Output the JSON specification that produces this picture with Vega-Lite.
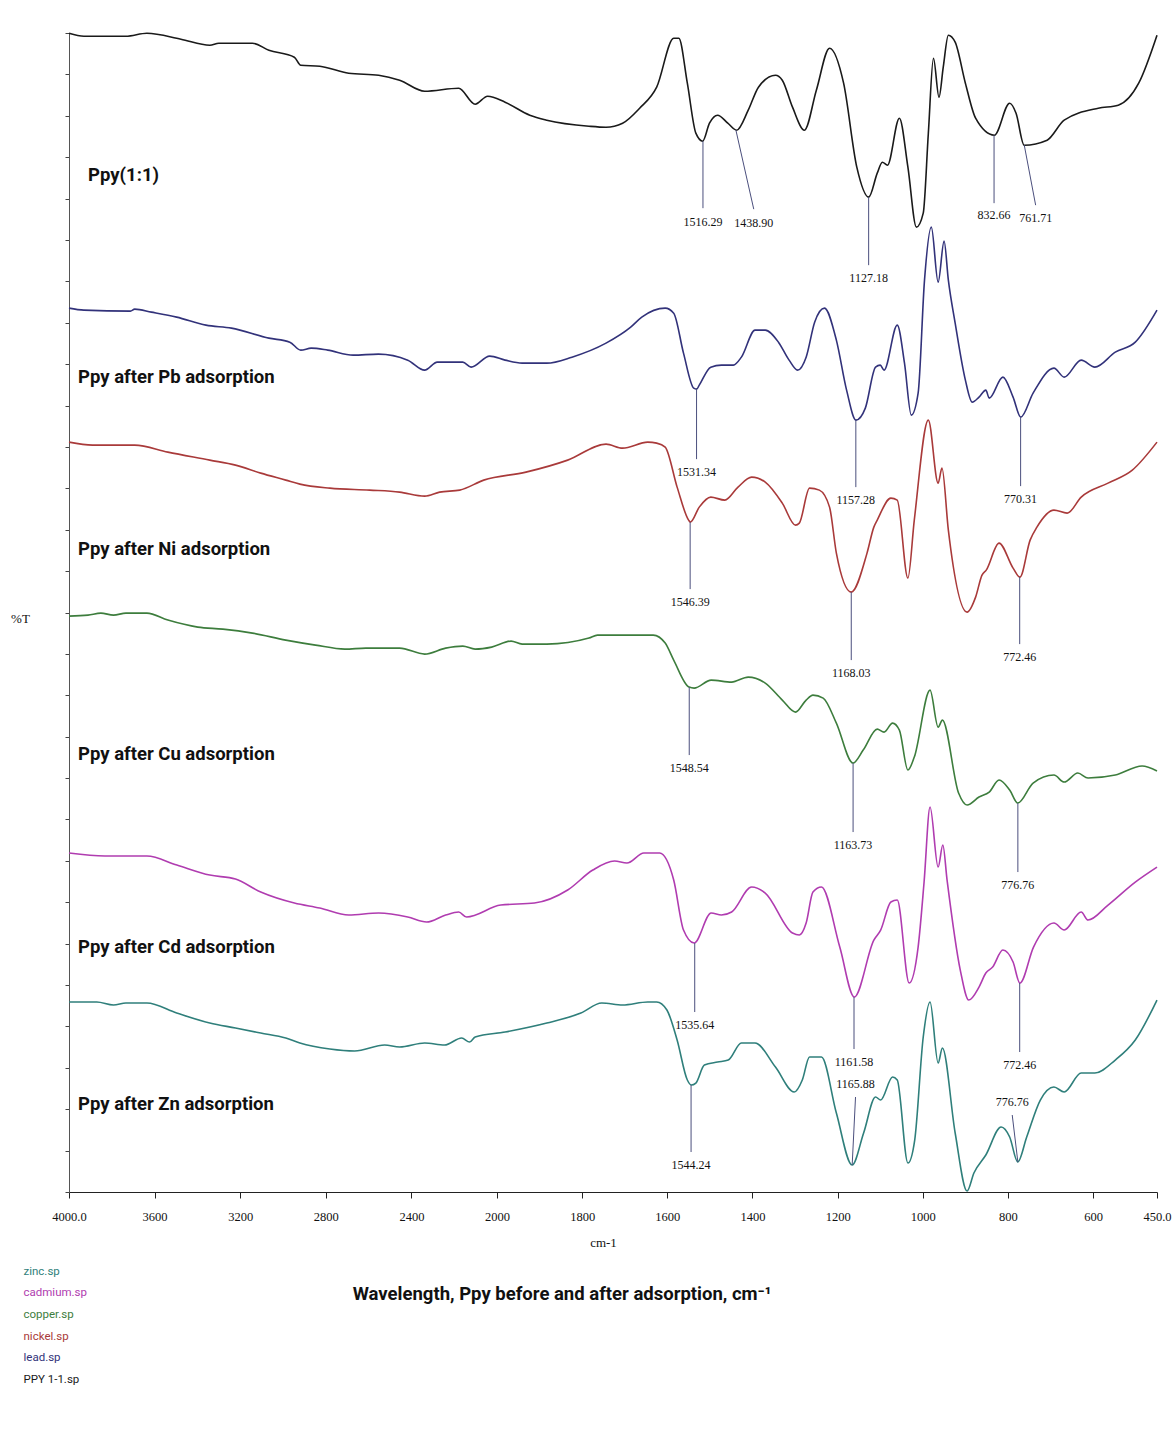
{
"$schema": "https://vega.github.io/schema/vega-lite/v6.json",
"autosize": "none",
"width": 1088,
"height": 1159,
"padding": {"left": 69, "top": 33, "right": 16, "bottom": 239},
"background": "white",
"config": {"view": {"stroke": null}},
"title": {"text": "Wavelength, Ppy before and after adsorption, cm⁻¹", "orient": "bottom", "offset": -101, "dx": -51, "font": "Roboto", "fontSize": 18.5, "fontWeight": "bold", "color": "#111"},
"datasets": {
"spectra": [
{"s":"PPY 1-1.sp","w":4000,"t":115.9},{"s":"PPY 1-1.sp","w":3930,"t":115.6},{"s":"PPY 1-1.sp","w":3734,"t":115.6},{"s":"PPY 1-1.sp","w":3636,"t":115.9},{"s":"PPY 1-1.sp","w":3477,"t":115.3},{"s":"PPY 1-1.sp","w":3342,"t":114.7},{"s":"PPY 1-1.sp","w":3300,"t":114.9},{"s":"PPY 1-1.sp","w":3143,"t":114.9},{"s":"PPY 1-1.sp","w":3066,"t":114.2},{"s":"PPY 1-1.sp","w":2947,"t":113.5},{"s":"PPY 1-1.sp","w":2917,"t":112.7},{"s":"PPY 1-1.sp","w":2828,"t":112.6},{"s":"PPY 1-1.sp","w":2693,"t":111.9},{"s":"PPY 1-1.sp","w":2553,"t":111.7},{"s":"PPY 1-1.sp","w":2455,"t":111.2},{"s":"PPY 1-1.sp","w":2338,"t":110.1},{"s":"PPY 1-1.sp","w":2179,"t":110.4},{"s":"PPY 1-1.sp","w":2102,"t":108.8},{"s":"PPY 1-1.sp","w":2044,"t":109.6},{"s":"PPY 1-1.sp","w":1981,"t":109.0},{"s":"PPY 1-1.sp","w":1923,"t":107.7},{"s":"PPY 1-1.sp","w":1883,"t":107.2},{"s":"PPY 1-1.sp","w":1784,"t":106.6},{"s":"PPY 1-1.sp","w":1744,"t":106.5},{"s":"PPY 1-1.sp","w":1705,"t":106.9},{"s":"PPY 1-1.sp","w":1665,"t":108.4},{"s":"PPY 1-1.sp","w":1625,"t":110.5},{"s":"PPY 1-1.sp","w":1585,"t":115.4},{"s":"PPY 1-1.sp","w":1573,"t":115.4},{"s":"PPY 1-1.sp","w":1553,"t":110.9},{"s":"PPY 1-1.sp","w":1533,"t":105.9},{"s":"PPY 1-1.sp","w":1517,"t":105.1},{"s":"PPY 1-1.sp","w":1501,"t":106.9},{"s":"PPY 1-1.sp","w":1482,"t":107.7},{"s":"PPY 1-1.sp","w":1458,"t":106.9},{"s":"PPY 1-1.sp","w":1437,"t":106.2},{"s":"PPY 1-1.sp","w":1410,"t":108.2},{"s":"PPY 1-1.sp","w":1386,"t":110.5},{"s":"PPY 1-1.sp","w":1346,"t":111.7},{"s":"PPY 1-1.sp","w":1330,"t":111.2},{"s":"PPY 1-1.sp","w":1306,"t":108.5},{"s":"PPY 1-1.sp","w":1278,"t":106.2},{"s":"PPY 1-1.sp","w":1250,"t":110.2},{"s":"PPY 1-1.sp","w":1219,"t":114.4},{"s":"PPY 1-1.sp","w":1186,"t":110.9},{"s":"PPY 1-1.sp","w":1155,"t":102.5},{"s":"PPY 1-1.sp","w":1127,"t":99.5},{"s":"PPY 1-1.sp","w":1107,"t":101.9},{"s":"PPY 1-1.sp","w":1095,"t":103.0},{"s":"PPY 1-1.sp","w":1083,"t":102.7},{"s":"PPY 1-1.sp","w":1055,"t":107.4},{"s":"PPY 1-1.sp","w":1035,"t":102.5},{"s":"PPY 1-1.sp","w":1015,"t":96.5},{"s":"PPY 1-1.sp","w":999,"t":97.9},{"s":"PPY 1-1.sp","w":987,"t":105.9},{"s":"PPY 1-1.sp","w":975,"t":113.4},{"s":"PPY 1-1.sp","w":962,"t":109.5},{"s":"PPY 1-1.sp","w":952,"t":112.5},{"s":"PPY 1-1.sp","w":940,"t":115.7},{"s":"PPY 1-1.sp","w":924,"t":115.0},{"s":"PPY 1-1.sp","w":900,"t":110.9},{"s":"PPY 1-1.sp","w":876,"t":107.4},{"s":"PPY 1-1.sp","w":832,"t":105.7},{"s":"PPY 1-1.sp","w":796,"t":108.9},{"s":"PPY 1-1.sp","w":781,"t":107.9},{"s":"PPY 1-1.sp","w":762,"t":104.7},{"s":"PPY 1-1.sp","w":708,"t":105.2},{"s":"PPY 1-1.sp","w":668,"t":107.2},{"s":"PPY 1-1.sp","w":588,"t":108.4},{"s":"PPY 1-1.sp","w":541,"t":108.7},{"s":"PPY 1-1.sp","w":493,"t":110.9},{"s":"PPY 1-1.sp","w":450,"t":115.7},
{"s":"lead.sp","w":4000,"t":88.4},{"s":"lead.sp","w":3930,"t":88.2},{"s":"lead.sp","w":3713,"t":88.1},{"s":"lead.sp","w":3693,"t":88.3},{"s":"lead.sp","w":3615,"t":88.0},{"s":"lead.sp","w":3497,"t":87.5},{"s":"lead.sp","w":3360,"t":86.7},{"s":"lead.sp","w":3241,"t":86.4},{"s":"lead.sp","w":3066,"t":85.4},{"s":"lead.sp","w":2968,"t":85.0},{"s":"lead.sp","w":2917,"t":84.2},{"s":"lead.sp","w":2868,"t":84.4},{"s":"lead.sp","w":2791,"t":84.2},{"s":"lead.sp","w":2672,"t":83.7},{"s":"lead.sp","w":2554,"t":83.8},{"s":"lead.sp","w":2417,"t":83.2},{"s":"lead.sp","w":2338,"t":82.2},{"s":"lead.sp","w":2279,"t":83.0},{"s":"lead.sp","w":2160,"t":83.0},{"s":"lead.sp","w":2121,"t":82.5},{"s":"lead.sp","w":2034,"t":83.6},{"s":"lead.sp","w":1981,"t":83.2},{"s":"lead.sp","w":1941,"t":82.9},{"s":"lead.sp","w":1883,"t":82.9},{"s":"lead.sp","w":1824,"t":83.5},{"s":"lead.sp","w":1744,"t":84.9},{"s":"lead.sp","w":1686,"t":86.5},{"s":"lead.sp","w":1660,"t":87.5},{"s":"lead.sp","w":1605,"t":88.4},{"s":"lead.sp","w":1585,"t":87.9},{"s":"lead.sp","w":1562,"t":83.9},{"s":"lead.sp","w":1538,"t":80.4},{"s":"lead.sp","w":1531,"t":80.3},{"s":"lead.sp","w":1525,"t":80.7},{"s":"lead.sp","w":1498,"t":82.5},{"s":"lead.sp","w":1473,"t":82.7},{"s":"lead.sp","w":1445,"t":82.7},{"s":"lead.sp","w":1426,"t":83.5},{"s":"lead.sp","w":1394,"t":86.2},{"s":"lead.sp","w":1370,"t":86.2},{"s":"lead.sp","w":1339,"t":85.0},{"s":"lead.sp","w":1314,"t":83.2},{"s":"lead.sp","w":1294,"t":82.2},{"s":"lead.sp","w":1274,"t":83.5},{"s":"lead.sp","w":1254,"t":87.0},{"s":"lead.sp","w":1231,"t":88.4},{"s":"lead.sp","w":1203,"t":85.2},{"s":"lead.sp","w":1179,"t":80.2},{"s":"lead.sp","w":1157,"t":77.2},{"s":"lead.sp","w":1135,"t":78.4},{"s":"lead.sp","w":1111,"t":82.5},{"s":"lead.sp","w":1100,"t":82.7},{"s":"lead.sp","w":1091,"t":82.2},{"s":"lead.sp","w":1060,"t":86.7},{"s":"lead.sp","w":1043,"t":82.9},{"s":"lead.sp","w":1027,"t":77.7},{"s":"lead.sp","w":1011,"t":79.9},{"s":"lead.sp","w":996,"t":91.2},{"s":"lead.sp","w":980,"t":96.5},{"s":"lead.sp","w":964,"t":91.0},{"s":"lead.sp","w":950,"t":95.1},{"s":"lead.sp","w":940,"t":91.2},{"s":"lead.sp","w":924,"t":86.9},{"s":"lead.sp","w":900,"t":81.2},{"s":"lead.sp","w":884,"t":79.0},{"s":"lead.sp","w":868,"t":79.5},{"s":"lead.sp","w":852,"t":80.2},{"s":"lead.sp","w":844,"t":79.4},{"s":"lead.sp","w":812,"t":81.5},{"s":"lead.sp","w":788,"t":79.5},{"s":"lead.sp","w":770,"t":77.5},{"s":"lead.sp","w":741,"t":79.9},{"s":"lead.sp","w":692,"t":82.4},{"s":"lead.sp","w":668,"t":81.5},{"s":"lead.sp","w":628,"t":83.2},{"s":"lead.sp","w":596,"t":82.5},{"s":"lead.sp","w":548,"t":84.0},{"s":"lead.sp","w":501,"t":85.0},{"s":"lead.sp","w":450,"t":88.2},
{"s":"nickel.sp","w":4000,"t":75.0},{"s":"nickel.sp","w":3890,"t":74.7},{"s":"nickel.sp","w":3693,"t":74.7},{"s":"nickel.sp","w":3538,"t":74.0},{"s":"nickel.sp","w":3342,"t":73.2},{"s":"nickel.sp","w":3222,"t":72.7},{"s":"nickel.sp","w":3104,"t":71.9},{"s":"nickel.sp","w":2987,"t":71.2},{"s":"nickel.sp","w":2921,"t":70.8},{"s":"nickel.sp","w":2781,"t":70.4},{"s":"nickel.sp","w":2595,"t":70.2},{"s":"nickel.sp","w":2455,"t":70.0},{"s":"nickel.sp","w":2338,"t":69.6},{"s":"nickel.sp","w":2268,"t":70.0},{"s":"nickel.sp","w":2174,"t":70.2},{"s":"nickel.sp","w":2062,"t":71.2},{"s":"nickel.sp","w":1932,"t":72.0},{"s":"nickel.sp","w":1834,"t":73.2},{"s":"nickel.sp","w":1744,"t":74.8},{"s":"nickel.sp","w":1705,"t":74.4},{"s":"nickel.sp","w":1646,"t":75.0},{"s":"nickel.sp","w":1625,"t":74.9},{"s":"nickel.sp","w":1605,"t":74.5},{"s":"nickel.sp","w":1577,"t":70.5},{"s":"nickel.sp","w":1550,"t":67.2},{"s":"nickel.sp","w":1546,"t":67.0},{"s":"nickel.sp","w":1525,"t":68.5},{"s":"nickel.sp","w":1498,"t":69.5},{"s":"nickel.sp","w":1465,"t":69.2},{"s":"nickel.sp","w":1434,"t":70.5},{"s":"nickel.sp","w":1402,"t":71.5},{"s":"nickel.sp","w":1370,"t":71.0},{"s":"nickel.sp","w":1330,"t":68.9},{"s":"nickel.sp","w":1299,"t":66.7},{"s":"nickel.sp","w":1290,"t":66.9},{"s":"nickel.sp","w":1266,"t":70.4},{"s":"nickel.sp","w":1243,"t":70.2},{"s":"nickel.sp","w":1219,"t":68.5},{"s":"nickel.sp","w":1203,"t":63.9},{"s":"nickel.sp","w":1168,"t":60.0},{"s":"nickel.sp","w":1131,"t":63.9},{"s":"nickel.sp","w":1115,"t":66.5},{"s":"nickel.sp","w":1107,"t":67.2},{"s":"nickel.sp","w":1075,"t":69.4},{"s":"nickel.sp","w":1060,"t":69.2},{"s":"nickel.sp","w":1035,"t":61.4},{"s":"nickel.sp","w":1020,"t":67.2},{"s":"nickel.sp","w":987,"t":77.2},{"s":"nickel.sp","w":964,"t":70.9},{"s":"nickel.sp","w":955,"t":72.4},{"s":"nickel.sp","w":940,"t":66.2},{"s":"nickel.sp","w":896,"t":58.0},{"s":"nickel.sp","w":876,"t":59.5},{"s":"nickel.sp","w":861,"t":61.7},{"s":"nickel.sp","w":851,"t":62.2},{"s":"nickel.sp","w":821,"t":64.9},{"s":"nickel.sp","w":788,"t":62.4},{"s":"nickel.sp","w":772,"t":61.5},{"s":"nickel.sp","w":748,"t":65.2},{"s":"nickel.sp","w":732,"t":66.5},{"s":"nickel.sp","w":692,"t":68.2},{"s":"nickel.sp","w":661,"t":67.9},{"s":"nickel.sp","w":628,"t":69.5},{"s":"nickel.sp","w":565,"t":70.9},{"s":"nickel.sp","w":508,"t":72.2},{"s":"nickel.sp","w":450,"t":75.0},
{"s":"copper.sp","w":4000,"t":57.6},{"s":"copper.sp","w":3911,"t":57.7},{"s":"copper.sp","w":3851,"t":57.9},{"s":"copper.sp","w":3792,"t":57.7},{"s":"copper.sp","w":3734,"t":57.9},{"s":"copper.sp","w":3636,"t":57.9},{"s":"copper.sp","w":3538,"t":57.2},{"s":"copper.sp","w":3398,"t":56.5},{"s":"copper.sp","w":3281,"t":56.3},{"s":"copper.sp","w":3143,"t":55.9},{"s":"copper.sp","w":2987,"t":55.2},{"s":"copper.sp","w":2848,"t":54.7},{"s":"copper.sp","w":2711,"t":54.3},{"s":"copper.sp","w":2613,"t":54.4},{"s":"copper.sp","w":2455,"t":54.4},{"s":"copper.sp","w":2338,"t":53.8},{"s":"copper.sp","w":2240,"t":54.4},{"s":"copper.sp","w":2160,"t":54.6},{"s":"copper.sp","w":2102,"t":54.3},{"s":"copper.sp","w":2025,"t":54.5},{"s":"copper.sp","w":1967,"t":55.1},{"s":"copper.sp","w":1941,"t":54.8},{"s":"copper.sp","w":1883,"t":54.8},{"s":"copper.sp","w":1784,"t":55.4},{"s":"copper.sp","w":1764,"t":55.7},{"s":"copper.sp","w":1665,"t":55.7},{"s":"copper.sp","w":1633,"t":55.7},{"s":"copper.sp","w":1605,"t":54.9},{"s":"copper.sp","w":1585,"t":53.2},{"s":"copper.sp","w":1549,"t":50.5},{"s":"copper.sp","w":1537,"t":50.4},{"s":"copper.sp","w":1497,"t":51.2},{"s":"copper.sp","w":1449,"t":51.0},{"s":"copper.sp","w":1410,"t":51.5},{"s":"copper.sp","w":1370,"t":50.9},{"s":"copper.sp","w":1330,"t":49.2},{"s":"copper.sp","w":1299,"t":48.0},{"s":"copper.sp","w":1274,"t":49.2},{"s":"copper.sp","w":1258,"t":49.7},{"s":"copper.sp","w":1234,"t":49.4},{"s":"copper.sp","w":1203,"t":46.9},{"s":"copper.sp","w":1164,"t":42.9},{"s":"copper.sp","w":1140,"t":44.2},{"s":"copper.sp","w":1107,"t":46.3},{"s":"copper.sp","w":1091,"t":46.0},{"s":"copper.sp","w":1071,"t":46.9},{"s":"copper.sp","w":1055,"t":46.2},{"s":"copper.sp","w":1035,"t":42.2},{"s":"copper.sp","w":1020,"t":43.5},{"s":"copper.sp","w":983,"t":50.2},{"s":"copper.sp","w":964,"t":46.5},{"s":"copper.sp","w":954,"t":47.2},{"s":"copper.sp","w":916,"t":39.9},{"s":"copper.sp","w":896,"t":38.7},{"s":"copper.sp","w":868,"t":39.5},{"s":"copper.sp","w":844,"t":40.0},{"s":"copper.sp","w":821,"t":41.2},{"s":"copper.sp","w":796,"t":40.2},{"s":"copper.sp","w":777,"t":38.9},{"s":"copper.sp","w":741,"t":40.9},{"s":"copper.sp","w":692,"t":41.7},{"s":"copper.sp","w":668,"t":41.0},{"s":"copper.sp","w":636,"t":41.9},{"s":"copper.sp","w":612,"t":41.4},{"s":"copper.sp","w":548,"t":41.7},{"s":"copper.sp","w":485,"t":42.6},{"s":"copper.sp","w":450,"t":42.1},
{"s":"cadmium.sp","w":4000,"t":33.9},{"s":"cadmium.sp","w":3832,"t":33.6},{"s":"cadmium.sp","w":3636,"t":33.6},{"s":"cadmium.sp","w":3496,"t":32.7},{"s":"cadmium.sp","w":3342,"t":31.7},{"s":"cadmium.sp","w":3222,"t":31.3},{"s":"cadmium.sp","w":3104,"t":30.0},{"s":"cadmium.sp","w":2947,"t":28.9},{"s":"cadmium.sp","w":2828,"t":28.4},{"s":"cadmium.sp","w":2693,"t":27.7},{"s":"cadmium.sp","w":2553,"t":27.9},{"s":"cadmium.sp","w":2417,"t":27.5},{"s":"cadmium.sp","w":2329,"t":27.0},{"s":"cadmium.sp","w":2240,"t":27.7},{"s":"cadmium.sp","w":2179,"t":28.0},{"s":"cadmium.sp","w":2142,"t":27.5},{"s":"cadmium.sp","w":1991,"t":28.7},{"s":"cadmium.sp","w":1912,"t":28.9},{"s":"cadmium.sp","w":1834,"t":30.2},{"s":"cadmium.sp","w":1775,"t":32.2},{"s":"cadmium.sp","w":1724,"t":33.1},{"s":"cadmium.sp","w":1695,"t":32.9},{"s":"cadmium.sp","w":1655,"t":33.9},{"s":"cadmium.sp","w":1618,"t":33.9},{"s":"cadmium.sp","w":1585,"t":31.2},{"s":"cadmium.sp","w":1562,"t":26.2},{"s":"cadmium.sp","w":1537,"t":24.9},{"s":"cadmium.sp","w":1497,"t":27.9},{"s":"cadmium.sp","w":1473,"t":27.7},{"s":"cadmium.sp","w":1449,"t":28.0},{"s":"cadmium.sp","w":1402,"t":30.5},{"s":"cadmium.sp","w":1370,"t":29.9},{"s":"cadmium.sp","w":1306,"t":25.9},{"s":"cadmium.sp","w":1290,"t":25.7},{"s":"cadmium.sp","w":1274,"t":26.9},{"s":"cadmium.sp","w":1258,"t":30.0},{"s":"cadmium.sp","w":1238,"t":30.5},{"s":"cadmium.sp","w":1195,"t":24.5},{"s":"cadmium.sp","w":1161,"t":19.5},{"s":"cadmium.sp","w":1115,"t":25.2},{"s":"cadmium.sp","w":1099,"t":26.2},{"s":"cadmium.sp","w":1075,"t":29.0},{"s":"cadmium.sp","w":1060,"t":29.2},{"s":"cadmium.sp","w":1032,"t":20.9},{"s":"cadmium.sp","w":1011,"t":24.5},{"s":"cadmium.sp","w":997,"t":31.0},{"s":"cadmium.sp","w":983,"t":38.5},{"s":"cadmium.sp","w":964,"t":32.5},{"s":"cadmium.sp","w":953,"t":34.7},{"s":"cadmium.sp","w":943,"t":31.2},{"s":"cadmium.sp","w":912,"t":22.2},{"s":"cadmium.sp","w":892,"t":19.2},{"s":"cadmium.sp","w":868,"t":20.5},{"s":"cadmium.sp","w":852,"t":21.9},{"s":"cadmium.sp","w":836,"t":22.5},{"s":"cadmium.sp","w":812,"t":24.2},{"s":"cadmium.sp","w":788,"t":23.0},{"s":"cadmium.sp","w":772,"t":20.9},{"s":"cadmium.sp","w":740,"t":24.5},{"s":"cadmium.sp","w":692,"t":26.9},{"s":"cadmium.sp","w":668,"t":26.2},{"s":"cadmium.sp","w":628,"t":28.0},{"s":"cadmium.sp","w":612,"t":27.2},{"s":"cadmium.sp","w":565,"t":28.7},{"s":"cadmium.sp","w":501,"t":31.0},{"s":"cadmium.sp","w":450,"t":32.5},
{"s":"zinc.sp","w":4000,"t":19.0},{"s":"zinc.sp","w":3870,"t":19.0},{"s":"zinc.sp","w":3792,"t":18.7},{"s":"zinc.sp","w":3734,"t":18.9},{"s":"zinc.sp","w":3636,"t":18.9},{"s":"zinc.sp","w":3497,"t":17.9},{"s":"zinc.sp","w":3342,"t":16.9},{"s":"zinc.sp","w":3222,"t":16.4},{"s":"zinc.sp","w":3104,"t":15.9},{"s":"zinc.sp","w":2987,"t":15.4},{"s":"zinc.sp","w":2921,"t":14.9},{"s":"zinc.sp","w":2781,"t":14.3},{"s":"zinc.sp","w":2665,"t":14.1},{"s":"zinc.sp","w":2525,"t":14.7},{"s":"zinc.sp","w":2455,"t":14.5},{"s":"zinc.sp","w":2338,"t":14.9},{"s":"zinc.sp","w":2245,"t":14.7},{"s":"zinc.sp","w":2165,"t":15.4},{"s":"zinc.sp","w":2128,"t":15.0},{"s":"zinc.sp","w":2102,"t":15.5},{"s":"zinc.sp","w":1981,"t":16.0},{"s":"zinc.sp","w":1883,"t":16.9},{"s":"zinc.sp","w":1803,"t":17.9},{"s":"zinc.sp","w":1754,"t":18.9},{"s":"zinc.sp","w":1705,"t":18.7},{"s":"zinc.sp","w":1646,"t":19.0},{"s":"zinc.sp","w":1625,"t":19.0},{"s":"zinc.sp","w":1601,"t":18.2},{"s":"zinc.sp","w":1577,"t":15.2},{"s":"zinc.sp","w":1553,"t":11.2},{"s":"zinc.sp","w":1544,"t":10.7},{"s":"zinc.sp","w":1533,"t":10.9},{"s":"zinc.sp","w":1513,"t":12.7},{"s":"zinc.sp","w":1482,"t":13.0},{"s":"zinc.sp","w":1457,"t":13.2},{"s":"zinc.sp","w":1426,"t":14.9},{"s":"zinc.sp","w":1394,"t":14.9},{"s":"zinc.sp","w":1346,"t":12.5},{"s":"zinc.sp","w":1302,"t":10.0},{"s":"zinc.sp","w":1283,"t":11.2},{"s":"zinc.sp","w":1266,"t":13.5},{"s":"zinc.sp","w":1238,"t":13.5},{"s":"zinc.sp","w":1203,"t":7.9},{"s":"zinc.sp","w":1166,"t":2.7},{"s":"zinc.sp","w":1139,"t":5.9},{"s":"zinc.sp","w":1111,"t":9.5},{"s":"zinc.sp","w":1099,"t":9.2},{"s":"zinc.sp","w":1071,"t":11.5},{"s":"zinc.sp","w":1060,"t":11.2},{"s":"zinc.sp","w":1035,"t":2.9},{"s":"zinc.sp","w":1019,"t":5.2},{"s":"zinc.sp","w":999,"t":15.5},{"s":"zinc.sp","w":983,"t":19.0},{"s":"zinc.sp","w":964,"t":12.9},{"s":"zinc.sp","w":954,"t":14.4},{"s":"zinc.sp","w":924,"t":5.9},{"s":"zinc.sp","w":896,"t":0.1},{"s":"zinc.sp","w":880,"t":1.9},{"s":"zinc.sp","w":852,"t":3.7},{"s":"zinc.sp","w":816,"t":6.5},{"s":"zinc.sp","w":796,"t":5.5},{"s":"zinc.sp","w":777,"t":3.0},{"s":"zinc.sp","w":756,"t":5.5},{"s":"zinc.sp","w":724,"t":9.2},{"s":"zinc.sp","w":692,"t":10.5},{"s":"zinc.sp","w":668,"t":10.0},{"s":"zinc.sp","w":628,"t":11.9},{"s":"zinc.sp","w":596,"t":11.9},{"s":"zinc.sp","w":548,"t":13.2},{"s":"zinc.sp","w":501,"t":15.2},{"s":"zinc.sp","w":450,"t":19.2}
],
"peaks": [
{"w":1516.29,"t0":105.1,"w2":1516.29,"t1":98.4,"tl":97.0,"label":"1516.29"},
{"w":1438.9,"t0":106.2,"w2":1397,"t1":98.3,"tl":96.9,"label":"1438.90"},
{"w":1127.18,"t0":99.5,"w2":1127.18,"t1":92.7,"tl":91.4,"label":"1127.18"},
{"w":832.66,"t0":105.7,"w2":832.66,"t1":98.9,"tl":97.7,"label":"832.66"},
{"w":761.71,"t0":104.7,"w2":735,"t1":98.7,"tl":97.4,"label":"761.71"},
{"w":1531.34,"t0":80.4,"w2":1531.34,"t1":73.3,"tl":72.0,"label":"1531.34"},
{"w":1157.28,"t0":77.2,"w2":1157.28,"t1":70.5,"tl":69.2,"label":"1157.28"},
{"w":770.31,"t0":77.5,"w2":770.31,"t1":70.6,"tl":69.3,"label":"770.31"},
{"w":1546.39,"t0":67.0,"w2":1546.39,"t1":60.3,"tl":59.0,"label":"1546.39"},
{"w":1168.03,"t0":60.0,"w2":1168.03,"t1":53.2,"tl":51.9,"label":"1168.03"},
{"w":772.46,"t0":61.5,"w2":772.46,"t1":54.8,"tl":53.5,"label":"772.46"},
{"w":1548.54,"t0":50.5,"w2":1548.54,"t1":43.7,"tl":42.4,"label":"1548.54"},
{"w":1163.73,"t0":42.9,"w2":1163.73,"t1":36.0,"tl":34.7,"label":"1163.73"},
{"w":776.76,"t0":38.9,"w2":776.76,"t1":32.0,"tl":30.7,"label":"776.76"},
{"w":1535.64,"t0":24.9,"w2":1535.64,"t1":18.0,"tl":16.7,"label":"1535.64"},
{"w":1161.58,"t0":19.5,"w2":1161.58,"t1":14.3,"tl":13.0,"label":"1161.58"},
{"w":772.46,"t0":20.9,"w2":772.46,"t1":14.0,"tl":12.7,"label":"772.46"},
{"w":1544.24,"t0":10.7,"w2":1544.24,"t1":4.0,"tl":2.7,"label":"1544.24"},
{"w":1165.88,"t0":2.7,"w2":1158,"t1":9.5,"tl":10.8,"label":"1165.88"},
{"w":776.76,"t0":3.0,"w2":790,"t1":7.7,"tl":9.0,"label":"776.76"}
],
"names": [
{"name":"Ppy(1:1)","w":3911,"t":101.7},
{"name":"Ppy after Pb adsorption","w":3958,"t":81.5},
{"name":"Ppy after Ni adsorption","w":3958,"t":64.3},
{"name":"Ppy after Cu adsorption","w":3958,"t":43.8},
{"name":"Ppy after Cd adsorption","w":3958,"t":24.5},
{"name":"Ppy after Zn adsorption","w":3958,"t":8.8}
]
},
"layer": [
{
"data": {"name": "spectra"},
"mark": {"type": "line", "strokeWidth": 1.6, "interpolate": "monotone"},
"encoding": {
"x": {"field": "w", "type": "quantitative",
"scale": {"domain": [4000, 2000, 450], "range": [0, 428, 1088], "nice": false, "zero": false},
"axis": {"values": [4000, 3600, 3200, 2800, 2400, 2000, 1800, 1600, 1400, 1200, 1000, 800, 600, 450],
"format": "d", "labelExpr": "datum.value == 4000 ? '4000.0' : datum.value == 450 ? '450.0' : datum.label",
"labelFont": "Liberation Serif", "labelFontSize": 12.5, "labelColor": "#111", "labelPadding": 12,
"tickSize": 6, "tickColor": "#222", "domainColor": "#222", "grid": false, "labelFlush": false,
"title": "cm-1", "titleFont": "Liberation Serif", "titleFontSize": 13, "titleFontWeight": "normal", "titleColor": "#111",
"titleX": 534, "titleY": 50, "titleBaseline": "middle"}},
"y": {"field": "t", "type": "quantitative",
"scale": {"domain": [0, 115.92], "nice": false, "zero": false},
"axis": {"values": [0,4.14,8.28,12.42,16.56,20.7,24.84,28.98,33.12,37.26,41.4,45.54,49.68,53.82,57.96,62.1,66.24,70.38,74.52,78.66,82.8,86.94,91.08,95.22,99.36,103.5,107.64,111.78,115.92],
"labels": false, "tickSize": 4, "tickColor": "#444", "domainColor": "#555", "grid": false,
"title": "%T", "titleAngle": 0, "titleFont": "Liberation Serif", "titleFontSize": 13, "titleFontWeight": "normal", "titleColor": "#111",
"titleX": -49, "titleY": 585, "titleAlign": "center", "titleBaseline": "middle"}},
"color": {"field": "s", "type": "nominal",
"scale": {"domain": ["zinc.sp", "cadmium.sp", "copper.sp", "nickel.sp", "lead.sp", "PPY 1-1.sp"],
"range": ["#2f7f7b", "#b03cb0", "#3d7d3d", "#a93a3a", "#32327a", "#1a1a1a"]},
"legend": {"orient": "none", "legendX": -57, "legendY": 1233, "title": null, "symbolSize": 0, "symbolStrokeWidth": 0, "labelOffset": 0,
"labelFont": "Roboto", "labelFontSize": 11.5, "rowPadding": 8.6,
"encode": {"labels": {"update": {"fill": {"scale": "color", "field": "value"}}}}}}
}
},
{
"data": {"name": "peaks"},
"mark": {"type": "rule", "color": "#4b4f7d", "strokeWidth": 1},
"encoding": {"x": {"field": "w", "type": "quantitative"}, "x2": {"field": "w2"}, "y": {"field": "t0", "type": "quantitative"}, "y2": {"field": "t1"}}
},
{
"data": {"name": "peaks"},
"mark": {"type": "text", "font": "Liberation Serif", "fontSize": 12, "color": "#111", "baseline": "middle", "align": "center"},
"encoding": {"x": {"field": "w2", "type": "quantitative"}, "y": {"field": "tl", "type": "quantitative"}, "text": {"field": "label"}}
},
{
"data": {"name": "names"},
"mark": {"type": "text", "font": "Roboto", "fontSize": 18.5, "fontWeight": "bold", "color": "#111", "baseline": "middle", "align": "left"},
"encoding": {"x": {"field": "w", "type": "quantitative"}, "y": {"field": "t", "type": "quantitative"}, "text": {"field": "name"}}
}
]
}
